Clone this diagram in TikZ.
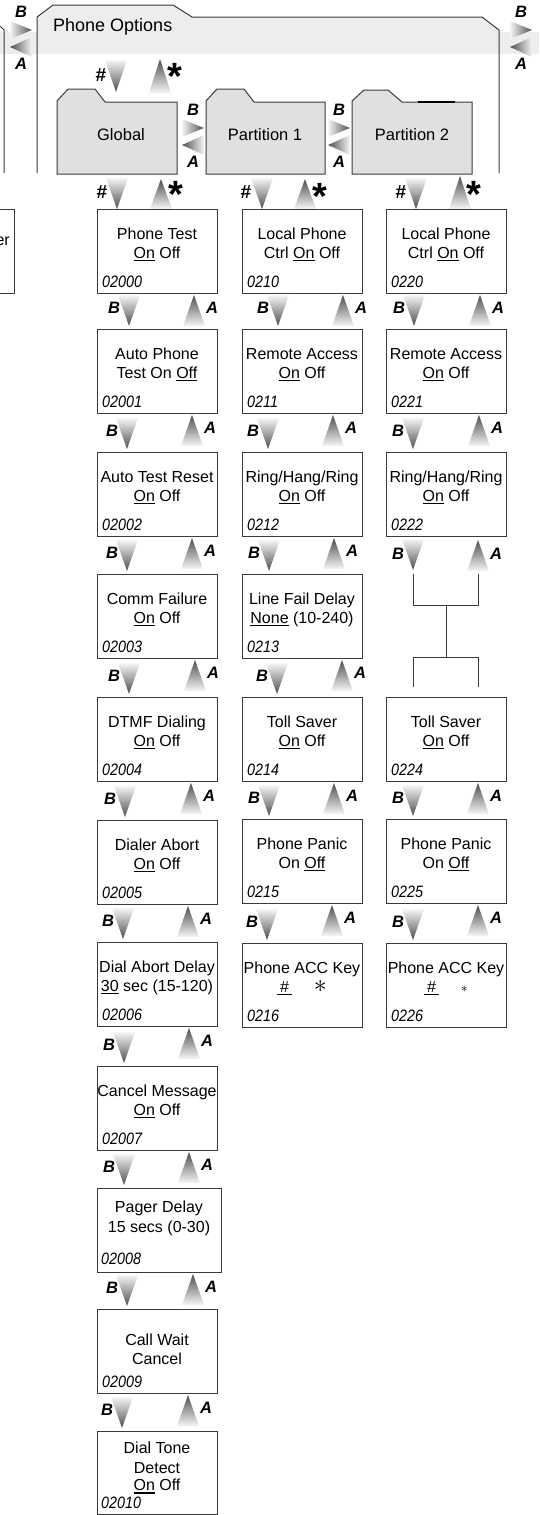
\documentclass[tikz,border=0pt]{standalone}
\usepackage{fontspec}
\usepackage{graphicx}
\setmainfont{Liberation Sans}
\newfontfamily\codefont[FakeStretch=0.87]{Liberation Sans}
\usetikzlibrary{calc}
\definecolor{linec}{HTML}{3A3A3A}
\definecolor{foldfill}{HTML}{E0E0E0}
\definecolor{bandfill}{HTML}{EDEDED}
\definecolor{tridark}{HTML}{4E4E4E}
\definecolor{trilight}{HTML}{F6F6F6}
\newcommand\ulx[1]{\setbox0=\hbox{#1}\rlap{\rule[-3.4pt]{\wd0}{1.6pt}}\box0\relax}
\tikzset{
  mbx/.style={draw=linec, line width=1pt, fill=white, minimum height=84pt, inner sep=0pt, outer sep=0pt},
  mtxt/.style={font=\fontsize{16}{19}\selectfont, inner sep=0pt, anchor=base},
  codetxt/.style={font=\codefont\itshape\fontsize{16.5}{18}\selectfont, inner sep=0pt, anchor=base west},
  lbl/.style={font=\bfseries\itshape\fontsize{16.5}{18}\selectfont, inner sep=0pt},
  hashlbl/.style={font=\bfseries\fontsize{19}{20}\selectfont, inner sep=0pt},
  starlbl/.style={font=\bfseries\fontsize{38}{38}\selectfont, inner sep=0pt, anchor=north},
  folder/.style={draw=linec, line width=1pt, fill=foldfill, line join=miter},
  outl/.style={draw=linec, line width=1pt},
  foldtxt/.style={font=\fontsize{16.5}{19}\selectfont, inner sep=0pt, anchor=base},
}
\newcommand\dtri[2]{\shade[top color=trilight,bottom color=tridark] ($(#1)+(-11,-#2)$) -- ($(#1)+(11,-#2)$) -- (#1) -- cycle;}
\newcommand\utri[2]{\shade[top color=tridark,bottom color=trilight] (#1) -- ($(#1)+(11,#2)$) -- ($(#1)+(-11,#2)$) -- cycle;}
% menu box: name, x, y, width, line1, line2, code
\newcommand\menubox[7]{%
  \node[mbx, minimum width=#4pt, anchor=north west] (#1) at (#2,#3) {};
  \node[mtxt] (#1-a) at ($(#1.north)+(0,30)$) {#5};
  \node[mtxt] (#1-b) at ($(#1.north)+(0,49)$) {#6};
  \node[codetxt] (#1-c) at ($(#1.north west)+(5,78)$) {#7};
}
% B/A navigation between upper and lower box: upper, lower, down tip x, up tip x
\newcommand\navlink[4]{%
  \coordinate (#1dn) at ($(#3,0 |- #2.north)+(0,-3)$);
  \coordinate (#1up) at ($(#4,0 |- #1.south)+(0,2)$);
  \dtri{#1dn}{31}
  \utri{#1up}{31}
  \node[lbl] (#1B) at ($(#1dn)+(-15,-18)$) {B};
  \node[lbl] (#1A) at ($(#1up)+(18,13)$) {A};
}
% side pair of triangles: name, x, y
\newcommand\sidepair[3]{%
  \coordinate (#1) at (#2,#3);
  \shade[left color=trilight, right color=tridark] (#1) -- ($(#1)+(22,9)$) -- ($(#1)+(0,18)$) -- cycle;
  \shade[left color=tridark, right color=trilight] ($(#1)+(0,26)$) -- ($(#1)+(22,16)$) -- ($(#1)+(22,36)$) -- cycle;
  \node[lbl] (#1B) at ($(#1)+(11,-9)$) {B};
  \node[lbl] (#1A) at ($(#1)+(11,43)$) {A};
}
\begin{document}
\begin{tikzpicture}[x=1pt,y=-1pt]
\useasboundingbox (0,0) rectangle (539,1515);
% grey bands
\fill[bandfill] (0,32) rectangle (37,54);
\fill[bandfill] (499,32) rectangle (539,54);
\fill[bandfill] (37,54) -- (37,17) -- (53,5) -- (173,5) -- (192,17) -- (482,17) -- (499,30) -- (499,54) -- cycle;
\draw[outl] (37,173) -- (37,17) -- (53,5) -- (173,5) -- (192,17) -- (482,17) -- (499,30) -- (499,173);
\draw[outl] (0,26) -- (4,30) -- (4,173);
\node[font=\fontsize{18}{20}\selectfont, anchor=base west, inner sep=0pt] (po) at (53,31) {Phone Options};
% side navigation
\sidepair{sl}{10}{21}
\sidepair{sr}{510}{21}
\sidepair{sg}{182}{119}
\sidepair{sp}{328}{119}
% folders
\draw[folder] (57,174) -- (57,101) -- (68,89) -- (95,89) -- (105,102) -- (177,102) -- (177,174) -- cycle;
\draw[folder] (206,174) -- (206,101) -- (217,89) -- (244,89) -- (254,102) -- (325,102) -- (325,174) -- cycle;
\draw[folder] (352,174) -- (352,101) -- (364,90) -- (388,90) -- (402,102) -- (472,102) -- (472,174) -- cycle;
\draw[line width=1.8pt, black] (418,102) -- (455,102);
\node[foldtxt] (fglob) at (121,140) {Global};
\node[foldtxt] (fp1) at (265,140) {Partition 1};
\node[foldtxt] (fp2) at (412,140) {Partition 2};
% top-level # and *
\coordinate (t0d) at (116,92); \dtri{t0d}{32}
\coordinate (t0u) at (160,59); \utri{t0u}{34}
\node[hashlbl] (t0h) at (101,75) {\#};
\node[starlbl] (t0s) at (175,63) {*};
\coordinate (t1d) at (117,209); \dtri{t1d}{31}
\coordinate (t1u) at (161,179); \utri{t1u}{30}
\node[hashlbl] (t1h) at (102,192) {\#};
\node[starlbl] (t1s) at (176,181) {*};
\coordinate (t2d) at (262,209); \dtri{t2d}{31}
\coordinate (t2u) at (305,179); \utri{t2u}{30}
\node[hashlbl] (t2h) at (246,192) {\#};
\node[starlbl] (t2s) at (320,183) {*};
\coordinate (t3d) at (416,209); \dtri{t3d}{31}
\coordinate (t3u) at (460,176); \utri{t3u}{33}
\node[hashlbl] (t3h) at (401,192) {\#};
\node[starlbl] (t3s) at (474,181) {*};
% previous (cut) box
\node[mbx, minimum width=20pt, anchor=north east] (prev) at (14,209) {};
\node[mtxt, anchor=base east] (prevt) at (10,245) {er};
% Global column
\menubox{g0}{97}{209}{120}{Phone Test}{\ulx{On} Off}{02000}
\menubox{g1}{97}{329}{120}{Auto Phone}{Test On \ulx{Off}}{02001}
\menubox{g2}{97}{452}{120}{Auto Test Reset}{\ulx{On} Off}{02002}
\menubox{g3}{97}{574}{120}{Comm Failure}{\ulx{On} Off}{02003}
\menubox{g4}{97}{697}{120}{DTMF Dialing}{\ulx{On} Off}{02004}
\menubox{g5}{97}{820}{120}{Dialer Abort}{\ulx{On} Off}{02005}
\menubox{g6}{97}{942}{120}{Dial Abort Delay}{\ulx{30} sec (15-120)}{02006}
\menubox{g7}{97}{1066}{120}{Cancel Message}{\ulx{On} Off}{02007}
\node[mbx, minimum width=124pt, anchor=north west] (g8) at (97,1188) {};
\node[mtxt] (g8-a) at ($(g8.north)+(0,24.5)$) {Pager Delay};
\node[mtxt] (g8-b) at ($(g8.north)+(0,44.5)$) {15 secs (0-30)};
\node[codetxt] (g8-c) at ($(g8.north west)+(4,76)$) {02008};
\node[mbx, minimum width=120pt, anchor=north west] (g9) at (97,1309) {};
\node[mtxt] (g9-a) at ($(g9.north)+(0,36.5)$) {Call Wait};
\node[mtxt] (g9-b) at ($(g9.north)+(0,55.5)$) {Cancel};
\node[codetxt] (g9-c) at ($(g9.north west)+(5,78)$) {02009};
\node[mbx, minimum width=120pt, minimum height=83pt, anchor=north west] (g10) at (97,1431) {};
\node[mtxt] (g10-a) at ($(g10.north)+(0,22.5)$) {Dial Tone};
\node[mtxt] (g10-b) at ($(g10.north)+(0,42.5)$) {Detect};
\node[mtxt] (g10-d) at ($(g10.north)+(0,59.5)$) {\ulx{On} Off};
\node[codetxt] (g10-c) at ($(g10.north west)+(4,77)$) {02010};
\navlink{g0}{g1}{129}{194}
\navlink{g1}{g2}{127}{192}
\navlink{g2}{g3}{127}{192}
\navlink{g3}{g4}{129}{195}
\navlink{g4}{g5}{125}{191}
\navlink{g5}{g6}{123}{188}
\navlink{g6}{g7}{124}{189}
\navlink{g7}{g8}{124}{189}
\navlink{g8}{g9}{127}{193}
\navlink{g9}{g10}{122}{188}
% Partition 1 column
\menubox{p0}{242}{209}{120}{Local Phone}{Ctrl \ulx{On} Off}{0210}
\menubox{p1}{242}{329}{120}{Remote Access}{\ulx{On} Off}{0211}
\menubox{p2}{242}{452}{120}{Ring/Hang/Ring}{\ulx{On} Off}{0212}
\menubox{p3}{242}{574}{120}{Line Fail Delay}{\ulx{None} (10-240)}{0213}
\menubox{p4}{242}{697}{120}{Toll Saver}{\ulx{On} Off}{0214}
\menubox{p5}{242}{819}{120}{Phone Panic}{On \ulx{Off}}{0215}
\menubox{p6}{242}{943}{120}{Phone ACC Key}{\ulx{\hspace{3pt}\#\hspace{3pt}}\hspace{22pt}\raisebox{0pt}[8pt][0pt]{\scalebox{1.5}{$\ast$}}\hspace{7pt}}{0216}
\navlink{p0}{p1}{278}{343}
\navlink{p1}{p2}{268}{333}
\navlink{p2}{p3}{269}{334}
\navlink{p3}{p4}{277}{342}
\navlink{p4}{p5}{269}{334}
\navlink{p5}{p6}{267}{332}
% Partition 2 column
\menubox{q0}{386}{209}{120}{Local Phone}{Ctrl \ulx{On} Off}{0220}
\menubox{q1}{386}{329}{120}{Remote Access}{\ulx{On} Off}{0221}
\menubox{q2}{386}{452}{120}{Ring/Hang/Ring}{\ulx{On} Off}{0222}
\menubox{q4}{386}{697}{120}{Toll Saver}{\ulx{On} Off}{0224}
\menubox{q5}{386}{819}{120}{Phone Panic}{On \ulx{Off}}{0225}
\menubox{q6}{386}{943}{120}{Phone ACC Key}{\ulx{\hspace{3pt}\#\hspace{3pt}}\hspace{22pt}\scalebox{0.8}{$\ast$}\hspace{8pt}}{0226}
\navlink{q0}{q1}{414}{480}
\navlink{q1}{q2}{413}{479}
\navlink{q4}{q5}{413}{478}
\navlink{q5}{q6}{413}{478}
% skipped step between 0222 and 0224
\coordinate (q2dn) at (413,570); \dtri{q2dn}{31}
\coordinate (q2up) at (478,540); \utri{q2up}{31}
\node[lbl] (q2B) at (398,554) {B};
\node[lbl] (q2A) at (496,554) {A};
\coordinate (j1l) at (413,574); \coordinate (j1r) at (478,574);
\coordinate (j2l) at (413,605); \coordinate (j2r) at (478,605); \coordinate (j2m) at (446,605);
\coordinate (j3l) at (413,657); \coordinate (j3r) at (478,657); \coordinate (j3m) at (446,657);
\coordinate (j4l) at (413,687); \coordinate (j4r) at (478,687);
\draw[outl] (j1l) -- (j2l) -- (j2r) -- (j1r);
\draw[outl] (j2m) -- (j3m);
\draw[outl] (j4l) -- (j3l) -- (j3r) -- (j4r);
\end{tikzpicture}
\end{document}
